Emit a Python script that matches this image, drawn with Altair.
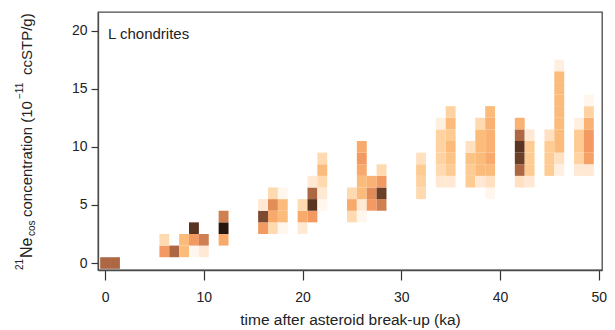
import altair as alt
import pandas as pd

# ---- data (bin centre in ka, bin centre in 1e-11 ccSTP/g, relative density) ----
time_ka = [0, 1,
           6, 6, 7, 8, 8, 9, 9, 9, 10, 10,
           12, 12, 12,
           16, 16, 16, 17, 17, 17, 17, 18, 18, 18, 18,
           20, 20, 20, 21, 21, 21, 21, 22, 22, 22, 22, 22,
           25, 25, 25, 26, 26, 26, 26, 26, 26, 26, 27, 27, 27, 28, 28, 28, 28,
           32, 32, 32, 32,
           34, 34, 34, 34, 34, 34, 35, 35, 35, 35, 35, 35, 35,
           37, 37, 37, 37, 38, 38, 38, 38, 38, 38,
           39, 39, 39, 39, 39, 39, 39, 39,
           42, 42, 42, 42, 42, 42, 43, 43, 43, 43, 43,
           45, 45, 45, 45, 46, 46, 46, 46, 46, 46, 46, 46, 46, 46,
           48, 48, 48, 48, 48, 49, 49, 49, 49, 49, 49, 49]
ne21 = [0, 0,
        1, 2, 1, 1, 2, 1, 2, 3, 1, 2,
        2, 3, 4,
        3, 4, 5, 3, 4, 5, 6, 3, 4, 5, 6,
        3, 4, 5, 4, 5, 6, 7, 5, 6, 7, 8, 9,
        4, 5, 6, 4, 5, 6, 7, 8, 9, 10, 5, 6, 7, 5, 6, 7, 8,
        6, 7, 8, 9,
        7, 8, 9, 10, 11, 12, 7, 8, 9, 10, 11, 12, 13,
        7, 8, 9, 10, 7, 8, 9, 10, 11, 12,
        6, 7, 8, 9, 10, 11, 12, 13,
        7, 8, 9, 10, 11, 12, 7, 8, 9, 10, 11,
        8, 9, 10, 11, 8, 9, 10, 11, 12, 13, 14, 15, 16, 17,
        8, 9, 10, 11, 12, 8, 9, 10, 11, 12, 13, 14]
level = [10, 10,
         7, 3, 10, 5, 5, 1, 7, 12, 2, 9,
         6, 13, 9,
         7, 11, 2, 3, 6, 8, 3, 1, 5, 5, 1,
         2, 6, 3, 7, 12, 10, 2, 1, 2, 3, 5, 3,
         3, 6, 3, 1, 2, 5, 5, 6, 7, 6, 7, 8, 5.5, 9, 11.5, 7, 3,
         3, 3.5, 4, 2.5,
         2, 3, 3.5, 3.5, 3.5, 1.5, 2, 4, 4.5, 5, 4, 5, 3.5,
         4, 4, 4.5, 2.5, 2, 5, 5, 5, 5, 3,
         1, 2.5, 5, 6, 5.5, 5.5, 5.5, 5,
         2.5, 10, 11.5, 12, 10, 5.5, 2, 4, 4, 4, 2,
         4, 4, 4, 2.5, 1.5, 2.5, 5, 5, 5, 5, 5, 5, 5, 1.5,
         2, 3.5, 4, 4, 1.5, 2, 6.5, 7, 7, 5.5, 3.5, 1]

x_ticks = [0, 10, 20, 30, 40, 50]
y_ticks = [0, 5, 10, 15, 20]

level_domain = [1, 2, 3, 4, 5, 6, 7, 8, 9, 10, 11, 12, 13]
level_colors = ["#FFF6EE", "#FFE8D4", "#FFDAB0", "#FECB92", "#FBBB7A", "#F8A96C",
                "#F39A62", "#E28C58", "#D07F50", "#AD6743", "#7B4A30", "#583421", "#24150D"]

df = pd.DataFrame({"t": time_ka, "ne": ne21, "level": level})

FONT = "Liberation Sans"
TXT = "#222222"

xscale = alt.Scale(domain=[-0.72, 50.33], nice=False, zero=False)
yscale = alt.Scale(domain=[-0.6, 21.6], nice=False, zero=False)

heat = alt.Chart(df).transform_calculate(
    t0="datum.t - 0.5", t1="datum.t + 0.5", n0="datum.ne - 0.5", n1="datum.ne + 0.5"
).mark_rect(strokeWidth=0).encode(
    x=alt.X("t0:Q", scale=xscale,
            axis=alt.Axis(values=x_ticks, title="time after asteroid break-up (ka)",
                          grid=False, tickSize=10, labelPadding=10, titlePadding=8,
                          labelFontSize=14, titleFontSize=15.5, titleFontWeight="normal")),
    x2="t1:Q",
    y=alt.Y("n0:Q", scale=yscale,
            axis=alt.Axis(values=y_ticks, title=None, grid=False, tickSize=7,
                          labelPadding=4, labelFontSize=14)),
    y2="n1:Q",
    color=alt.Color("level:Q", scale=alt.Scale(domain=level_domain, range=level_colors),
                    legend=None),
)

label = alt.Chart(pd.DataFrame({"s": ["L chondrites"]})).mark_text(
    align="left", baseline="middle", fontSize=15, font=FONT, color=TXT
).encode(text="s:N", x=alt.value(10), y=alt.value(22))

# y-axis title built from pieces (superscript / subscript), rotated
pieces = [
    ("21", 10, -78, 258),
    ("Ne", 16, -71, 246),
    ("cos", 10, -66, 224),
    ("concentration (10", 15, -71, 205),
    ("\u221211", 10, -78, 87),
    ("ccSTP/g)", 15, -71, 63),
]
ytitle_layers = []
for s, fs, xx, yy in pieces:
    ytitle_layers.append(
        alt.Chart(pd.DataFrame({"s": [s]})).mark_text(
            align="left", baseline="middle", angle=270, fontSize=fs, font=FONT, color=TXT
        ).encode(text="s:N", x=alt.value(xx), y=alt.value(yy))
    )

chart = alt.layer(heat, label, *ytitle_layers).properties(
    width=504, height=258,
    autosize=alt.AutoSizeParams(type="none"),
    padding={"left": 90, "top": 4, "right": 5, "bottom": 58},
).configure_view(
    stroke="#4a4a4a", strokeWidth=1.3
).configure_axis(
    domainColor="#4a4a4a", domainWidth=1.3, tickColor="#333333", tickWidth=1.2,
    labelColor=TXT, titleColor=TXT, labelFont=FONT, titleFont=FONT
)

chart.save("out.html", embed_options={"renderer": "svg", "actions": False})
